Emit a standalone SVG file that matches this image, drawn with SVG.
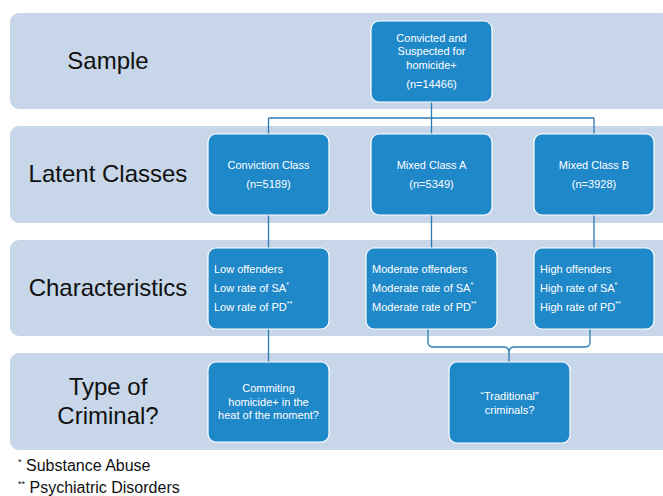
<svg xmlns="http://www.w3.org/2000/svg" width="663" height="496" viewBox="0 0 663 496">
<style>
.band{fill:#c7d6e8;}
.node{fill:#1f88c9;stroke:#ffffff;stroke-width:1.2;}
.lbl{font-family:"Liberation Sans",Arial,sans-serif;font-size:24px;fill:#111;text-anchor:middle;}
.t{font-family:"Liberation Sans",Arial,sans-serif;font-size:11px;fill:#ffffff;text-anchor:middle;}
.tl{font-family:"Liberation Sans",Arial,sans-serif;font-size:11px;fill:#ffffff;}
.sup{font-size:7px;}
.con{fill:none;stroke:#2b7bb6;stroke-width:1.3;}
.fn{font-family:"Liberation Sans",Arial,sans-serif;font-size:16px;fill:#111;}
</style>
<rect width="663" height="496" fill="#ffffff"/>
<g id="bands">
<rect class="band" x="10" y="13" width="660" height="96" rx="9"/>
<rect class="band" x="10" y="126" width="660" height="97" rx="9"/>
<rect class="band" x="10" y="240" width="660" height="96" rx="9"/>
<rect class="band" x="10" y="353" width="660" height="97" rx="9"/>
</g>
<g id="row-labels">
<text class="lbl" x="108" y="69">Sample</text>
<text class="lbl" x="108" y="182">Latent Classes</text>
<text class="lbl" x="108" y="296">Characteristics</text>
<text class="lbl" x="108" y="395">Type of</text>
<text class="lbl" x="108" y="424">Criminal?</text>
</g>
<g id="connectors">
<path class="con" d="M431.5,102 V118 M268.5,118 H594 M268.5,118 V134 M431.5,118 V134 M594,118 V134"/>
<path class="con" d="M268.5,215 V248 M431.5,215 V248 M594,215 V248"/>
<path class="con" d="M268.5,329 V362"/>
<path class="con" d="M428,329 V342 Q428,347 433,347 H504 Q509,347 509,353 Q509,347 514,347 H585 Q590,347 590,342 V329 M509,353 V362"/>
</g>
<g id="n-sample">
<rect class="node" x="371" y="21" width="121" height="81" rx="8"/>
<text class="t" x="431.5" y="42">Convicted and</text>
<text class="t" x="431.5" y="55">Suspected for</text>
<text class="t" x="431.5" y="69">homicide+</text>
<text class="t" x="431.5" y="88">(n=14466)</text>
</g>
<g id="n-conviction">
<rect class="node" x="208" y="134" width="121" height="81" rx="8"/>
<text class="t" x="268.5" y="169">Conviction Class</text>
<text class="t" x="268.5" y="188">(n=5189)</text>
</g>
<g id="n-mixedA">
<rect class="node" x="371" y="134" width="121" height="81" rx="8"/>
<text class="t" x="431.5" y="169">Mixed Class A</text>
<text class="t" x="431.5" y="188">(n=5349)</text>
</g>
<g id="n-mixedB">
<rect class="node" x="534" y="134" width="120" height="81" rx="8"/>
<text class="t" x="594" y="169">Mixed Class B</text>
<text class="t" x="594" y="188">(n=3928)</text>
</g>
<g id="n-low">
<rect class="node" x="208" y="248" width="121" height="81" rx="8"/>
<text class="tl" x="214" y="273">Low offenders</text>
<text class="tl" x="214" y="292">Low rate of SA<tspan class="sup" dy="-5">*</tspan></text>
<text class="tl" x="214" y="311">Low rate of PD<tspan class="sup" dy="-5">**</tspan></text>
</g>
<g id="n-moderate">
<rect class="node" x="366" y="248" width="131" height="81" rx="8"/>
<text class="tl" x="372" y="273">Moderate offenders</text>
<text class="tl" x="372" y="292">Moderate rate of SA<tspan class="sup" dy="-5">*</tspan></text>
<text class="tl" x="372" y="311">Moderate rate of PD<tspan class="sup" dy="-5">**</tspan></text>
</g>
<g id="n-high">
<rect class="node" x="534" y="248" width="120" height="81" rx="8"/>
<text class="tl" x="540" y="273">High offenders</text>
<text class="tl" x="540" y="292">High rate of SA<tspan class="sup" dy="-5">*</tspan></text>
<text class="tl" x="540" y="311">High rate of PD<tspan class="sup" dy="-5">**</tspan></text>
</g>
<g id="n-heat">
<rect class="node" x="208" y="362" width="121" height="80" rx="8"/>
<text class="t" x="268.5" y="392">Commiting</text>
<text class="t" x="268.5" y="406">homicide+ in the</text>
<text class="t" x="268.5" y="419">heat of the moment?</text>
</g>
<g id="n-traditional">
<rect class="node" x="449" y="362" width="121" height="81" rx="8"/>
<text class="t" x="509.5" y="400">“Traditional”</text>
<text class="t" x="509.5" y="414">criminals?</text>
</g>
<g id="footnotes">
<text class="fn" x="18" y="471"><tspan font-size="9" dy="-6">*</tspan><tspan dy="6"> Substance Abuse</tspan></text>
<text class="fn" x="18" y="493"><tspan font-size="9" dy="-6">**</tspan><tspan dy="6"> Psychiatric Disorders</tspan></text>
</g>
</svg>
